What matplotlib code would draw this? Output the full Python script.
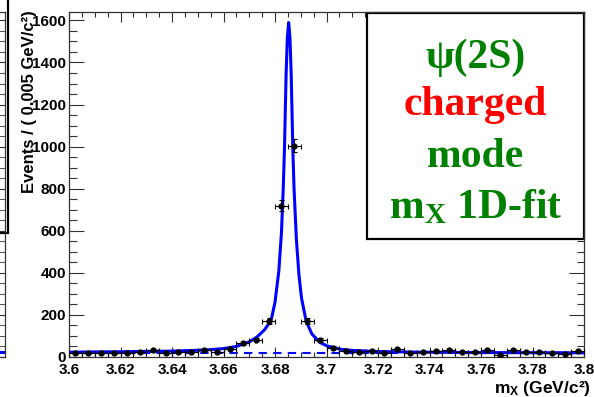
""" psi(2S) charged mode, m_X 1D fit -- ROOT style plot """

import numpy as np
import matplotlib
matplotlib.use("Agg")
import matplotlib.pyplot as plt
from matplotlib.patches import Rectangle
from matplotlib.ticker import MultipleLocator, FormatStrFormatter

plt.rcParams['font.family'] = ['Liberation Sans', 'DejaVu Sans']
plt.rcParams['mathtext.fontset'] = 'custom'
plt.rcParams['mathtext.bf'] = 'Liberation Serif:bold'
plt.rcParams['mathtext.sf'] = 'Liberation Sans:bold'

# histogram, 5 MeV bins from 3.6 to 3.8
bin_centers = np.linspace(3.6025, 3.7975, 40)
counts = [18, 18, 20, 20, 17, 25, 33, 17, 22, 25,
          33, 25, 38, 65, 83, 172, 720, 1005, 172, 80,
          44, 30, 25, 30, 17, 36, 20, 25, 30, 33,
          22, 25, 33, 10, 33, 25, 22, 20, 14, 30]

# fit curve
fit_x = [3.600, 3.620, 3.640, 3.650, 3.655, 3.660, 3.665, 3.670, 3.6730,
         3.6760, 3.6785, 3.6800, 3.6815, 3.6825, 3.6832, 3.6837, 3.6843,
         3.6848, 3.6853, 3.6858, 3.6863, 3.6869, 3.6874, 3.6883, 3.6893,
         3.6903, 3.6921, 3.6943, 3.6973, 3.7003, 3.7053, 3.7103, 3.7203,
         3.7353, 3.760, 3.800]
fit_y = [23, 25, 28, 32, 35, 40, 50, 72, 95,
         130, 175, 260, 410, 590, 800, 1000, 1340,
         1520, 1590, 1520, 1340, 1000, 800, 560, 390,
         280, 170, 110, 70, 52, 37, 31, 26,
         23, 21, 20]

# background component
bkg_x = [3.6, 3.8]
bkg_y = [19, 19]

fig = plt.figure(figsize=(5.94, 3.97), dpi=100)
ax = fig.add_axes([69 / 594, 1 - 357 / 397, 515 / 594, 345 / 397])

ax.plot(fit_x, fit_y, color='#0000ff', lw=2.2, zorder=2)
ax.plot(bkg_x, bkg_y, color='#0000ff', lw=1.5, dashes=(4, 3), zorder=2)
ax.errorbar(bin_centers, counts, xerr=0.0025, yerr=np.sqrt(counts),
            fmt='o', color='black', ms=3.5, elinewidth=0.8, capsize=1.8,
            capthick=0.8, zorder=3)

ax.set_xlim(3.6, 3.8)
ax.set_ylim(0, 1640)
ax.xaxis.set_major_locator(MultipleLocator(0.02))
ax.xaxis.set_minor_locator(MultipleLocator(0.005))
ax.yaxis.set_major_locator(MultipleLocator(200))
ax.yaxis.set_minor_locator(MultipleLocator(50))
ax.xaxis.set_major_formatter(FormatStrFormatter('%g'))

ax.tick_params(axis='both', which='both', direction='in', top=True,
               right=True, width=0.8, color='#333333')
ax.tick_params(axis='x', which='major', length=7.2, pad=4)
ax.tick_params(axis='x', which='minor', length=3.6)
ax.tick_params(axis='y', which='major', length=10.8, pad=2)
ax.tick_params(axis='y', which='minor', length=5.4)
for lab in ax.get_xticklabels() + ax.get_yticklabels():
    lab.set_fontsize(11)
    lab.set_fontweight('bold')
for sp in ax.spines.values():
    sp.set_linewidth(0.9)
    sp.set_color('#333333')

# text box
box = Rectangle((0.579, 0.342), 0.421, 0.655, transform=ax.transAxes,
                facecolor='white', edgecolor='black', lw=1.6, zorder=2.2,
                clip_on=False)
ax.add_patch(box)
serif = ['Liberation Serif', 'DejaVu Serif']
ax.text(0.789, 0.838, 'ψ(2S)', transform=ax.transAxes, ha='center',
        va='baseline', color='#008000', fontsize=30, fontweight='bold',
        family=serif)
ax.text(0.789, 0.701, 'charged', transform=ax.transAxes, ha='center',
        va='baseline', color='#ff0000', fontsize=30, fontweight='bold',
        family=serif)
ax.text(0.789, 0.551, 'mode', transform=ax.transAxes, ha='center',
        va='baseline', color='#008000', fontsize=30, fontweight='bold',
        family=serif)
ax.text(0.789, 0.403, r'$\mathbf{m_X}$ 1D-fit', transform=ax.transAxes,
        ha='center', va='baseline', color='#008000', fontsize=30,
        fontweight='bold', family=serif)

# axis titles
fig.text(591 / 594, 1 - 389 / 397, r'$\mathsf{m_X}$ (GeV/c²)', ha='right',
         va='center', fontsize=12.5, fontweight='bold')
fig.text(30 / 594, 1 - 10 / 397, 'Events / ( 0.005 GeV/c²)', rotation=90,
         ha='center', va='top', fontsize=12, fontweight='bold')

# edge of the neighbouring panel on the left
nb = fig.add_axes([(5 - 400) / 594, 1 - 357 / 397, 400 / 594, 345 / 397])
nb.set_xlim(3.6, 3.8)
nb.set_ylim(0, 1640)
nb.plot(bkg_x, [24, 24], color='#0000ff', lw=2.2)
nb.yaxis.set_minor_locator(MultipleLocator(50))
nb.tick_params(axis='y', which='both', direction='in', right=True,
               left=False, labelleft=False, length=10.8, color='#333333')
nb.tick_params(axis='x', which='both', bottom=False, labelbottom=False)
nb.add_patch(Rectangle((0.6, 0.359), 0.4075, 0.7, transform=nb.transAxes,
                       facecolor='none', edgecolor='black', lw=1.6,
                       clip_on=False))
for sp in nb.spines.values():
    sp.set_linewidth(0.9)
    sp.set_color('#333333')

fig.savefig('out.png', dpi=100)
